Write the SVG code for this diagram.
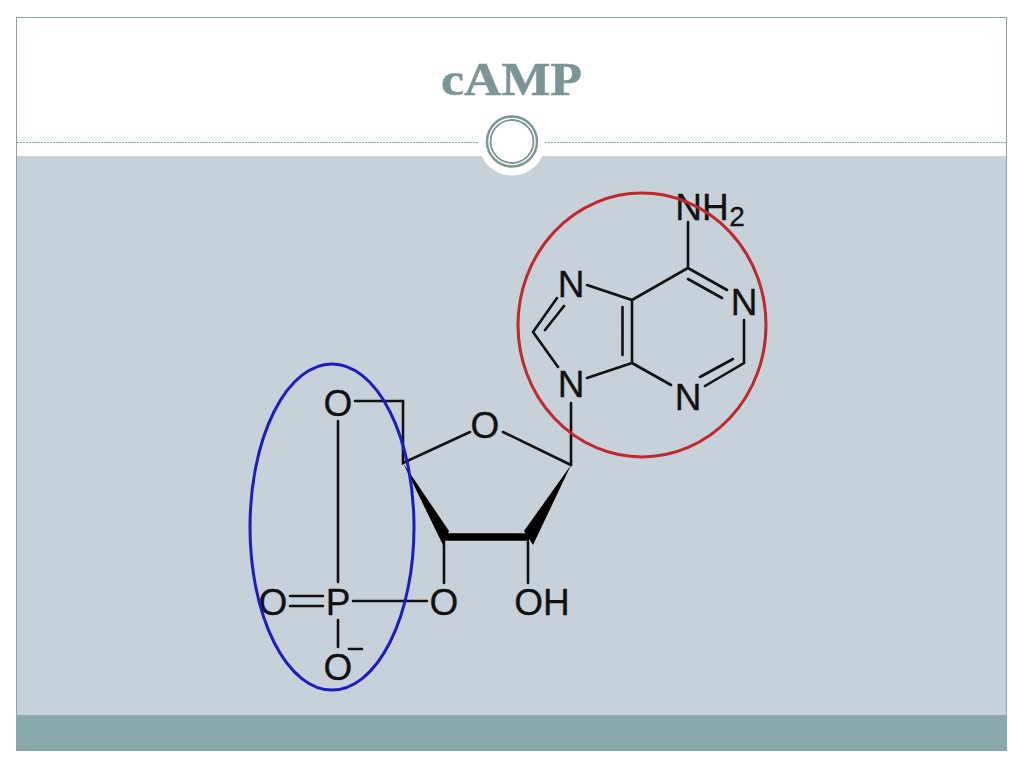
<svg xmlns="http://www.w3.org/2000/svg" width="1024" height="768" viewBox="0 0 1024 768">
<style>
.b{stroke:#111;stroke-width:2.600;fill:none;stroke-linecap:round}
.a{font-family:"Liberation Sans",Arial,sans-serif;font-size:37px;fill:#111;stroke:#111;stroke-width:.3;text-anchor:middle}
</style>
<rect width="1024" height="768" fill="#fff"/>
<g id="slide">
<rect x="16.500" y="156" width="990" height="560" fill="#c6d1d9"/>
<rect x="16.500" y="715" width="990" height="35" fill="#8aa9ab"/>
<rect x="16.500" y="17.500" width="990" height="733" fill="none" stroke="#8aa5a7" stroke-width="1"/>
<line x1="17" y1="142.500" x2="1006" y2="142.500" stroke="#8aa5a7" stroke-width="1" stroke-dasharray="2 1"/>
<circle cx="512" cy="142" r="33.500" fill="#fff"/>
<circle cx="512" cy="141.500" r="25" fill="#fff" stroke="#7a9598" stroke-width="2.400"/>
<circle cx="512" cy="141.500" r="21.500" fill="#fff" stroke="#7a9598" stroke-width="1.800"/>
<text x="441" y="95" font-family="Liberation Serif,serif" font-weight="bold" font-size="47" textLength="141" lengthAdjust="spacingAndGlyphs" fill="#7a9598" stroke="#7a9598" stroke-width=".5">cAMP</text>
</g>
<g id="bonds">
<path class="b" d="M688 222V268L632 300L587 285M688 268L727 290M688 279L722 298M632 300V363M622.500 307V355M632 363L671 385M632 363L587 378M744 320V363L705 386M733 359L700 377M558 367L533 332L557 298M545 330L564 306M571 403V465"/>
<path class="b" d="M355 401H403V463L470 432M503 432L571 465M338 421V582M290 596H323M290 606H323M353 601H427M338 620V647M444 542V583M528 542V583M349 649H362"/>
<path d="M403 463L449 531L443 545ZM571 465L533 545L524 531Z" fill="#000"/>
<path d="M443 537H529" stroke="#000" stroke-width="7.500" fill="none"/>
</g>
<g id="atoms">
<text class="a" x="571" y="297">N</text>
<text class="a" x="744" y="315">N</text>
<text class="a" x="688" y="410">N</text>
<text class="a" x="571" y="397">N</text>
<text class="a" x="485" y="438">O</text>
<text class="a" x="338" y="416">O</text>
<text class="a" x="338" y="615">P</text>
<text class="a" x="273" y="615">O</text>
<text class="a" x="444" y="615">O</text>
<text class="a" x="338" y="680">O</text>
<text class="a" x="542" y="615">OH</text>
<text class="a" x="702" y="220">NH</text>
<text class="a" x="737" y="226" style="font-size:28px">2</text>
</g>
<g id="circle-adenine"><ellipse cx="642" cy="325" rx="124" ry="132" fill="none" stroke="#c1272d" stroke-width="3"/></g>
<g id="circle-phosphate"><ellipse cx="332" cy="527" rx="82" ry="163" fill="none" stroke="#1c1cc4" stroke-width="3"/></g>
</svg>
